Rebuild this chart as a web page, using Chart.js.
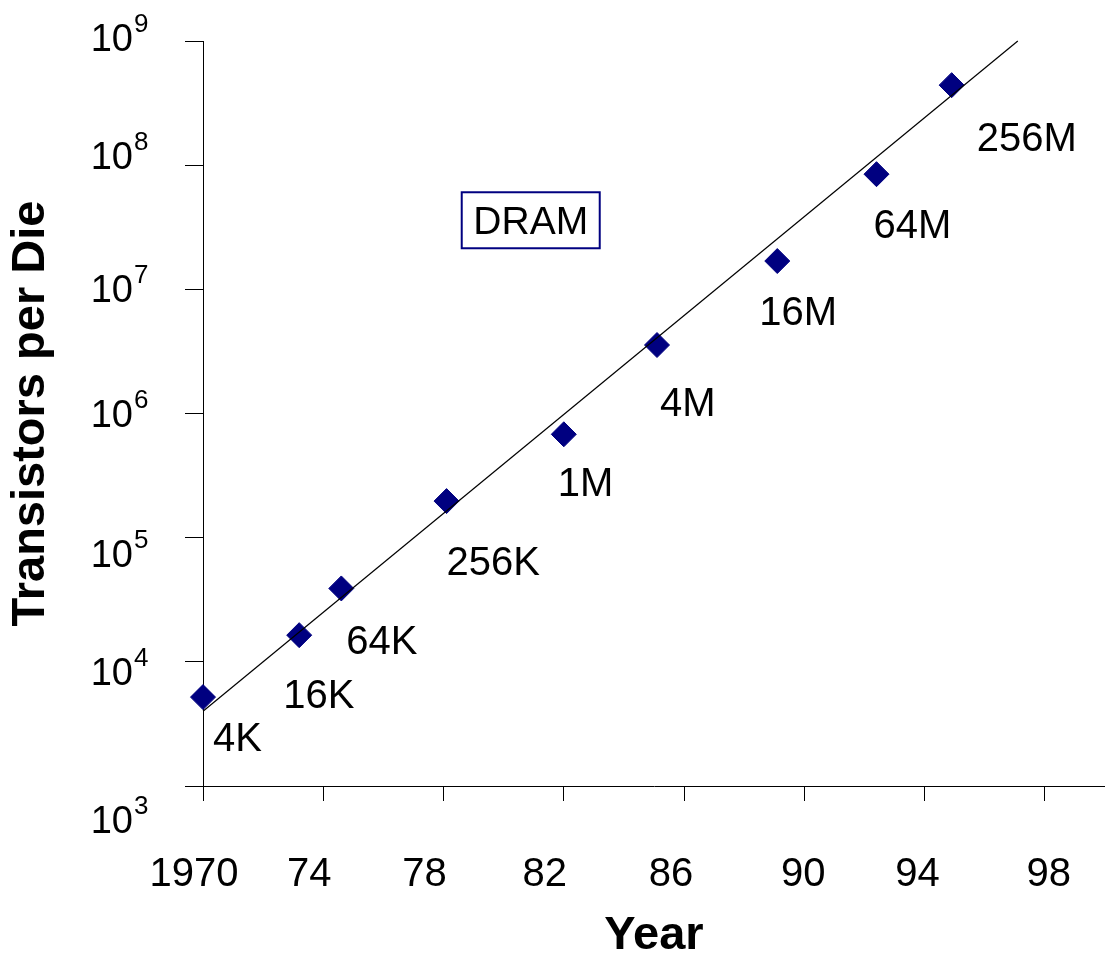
<!DOCTYPE html>
<html>
<head>
<meta charset="utf-8">
<title>DRAM Transistors per Die</title>
<script src="https://cdn.jsdelivr.net/npm/chart.js@4.4.1/dist/chart.umd.min.js"></script>
<style>
    html,body{ margin:0; padding:0; background:#fff; }
    #wrap{ width:1105px; height:960px; }
</style>
</head>
<body>
<div id="wrap">
    <canvas id="dramChart" width="1105" height="960"></canvas>
</div>
<script>

// ===============================
// DATA
// ===============================

const years = [1970, 1973.2, 1974.6, 1978.1, 1982.0, 1985.1, 1989.1, 1992.4, 1994.9];

const transistors = [5200, 16400, 39000, 197000, 680000, 3560000, 16900000, 84600000, 441000000];

const chipLabels = ["4K", "16K", "64K", "256K", "1M", "4M", "16M", "64M", "256M"];

const trendYears = [1970, 1997.1];

const trendValues = [4000, 1000000000];

const xTickValues = [1970, 1974, 1978, 1982, 1986, 1990, 1994, 1998];

const xTickLabels = ["1970", "74", "78", "82", "86", "90", "94", "98"];

const yTickExponents = [3, 4, 5, 6, 7, 8, 9];

const FONT = "'Liberation Sans', Arial, sans-serif";

// ===============================
// LABEL PLUGIN (tick labels, chip names, box)
// ===============================

const labelPlugin = {

    id: "labelPlugin",

    afterDraw(chart, args, opts){

        const ctx = chart.ctx;
        const xs = chart.scales.x;
        const ys = chart.scales.y;

        ctx.save();
        ctx.fillStyle = "#000";
        ctx.textBaseline = "alphabetic";

        // x tick labels
        ctx.font = "40px " + FONT;
        ctx.textAlign = "center";
        xTickValues.forEach((v, i) => {
            ctx.fillText(xTickLabels[i], xs.getPixelForValue(v) + opts.xNudge[i], xs.top + 100);
        });

        // y tick labels 10^n
        yTickExponents.forEach((e, i) => {
            const base = ys.getPixelForValue(Math.pow(10, e)) + opts.yNudge[i];
            const right = chart.chartArea.left - 70;
            ctx.font = "38px " + FONT;
            ctx.textAlign = "right";
            ctx.fillText("10", right, base);
            ctx.font = "26px " + FONT;
            ctx.textAlign = "left";
            ctx.fillText(String(e), right + 1, base - 19);
        });

        // chip labels next to points
        ctx.font = "40px " + FONT;
        ctx.textAlign = "left";
        const meta = chart.getDatasetMeta(1);
        meta.data.forEach((pt, i) => {
            const n = opts.chipNudge[i];
            ctx.fillText(chipLabels[i], pt.x + n[0], pt.y + n[1]);
        });

        // DRAM box
        const bx = xs.getPixelForValue(opts.box.x);
        const by = ys.getPixelForValue(opts.box.y);
        ctx.strokeStyle = "#000080";
        ctx.lineWidth = 2;
        ctx.strokeRect(bx - 69, by - 28, 138, 56);
        ctx.font = "39px " + FONT;
        ctx.textAlign = "center";
        ctx.fillText("DRAM", bx, by + 13.5);

        ctx.restore();

    }

};

// ===============================
// CHART
// ===============================

const ctx = document
.getElementById("dramChart")
.getContext("2d");

const chart = new Chart(ctx, {

    type: "scatter",

    data: {

        datasets: [{

            label: "Trend",

            data: trendYears.map((x, i) => ({ x: x, y: trendValues[i] })),

            showLine: true,

            borderColor: "#000",

            borderWidth: 1.2,

            pointRadius: 0,

            clip: false,

            order: 0

        }, {

            label: "DRAM",

            data: years.map((x, i) => ({ x: x, y: transistors[i] })),

            pointStyle: "rectRot",

            pointRadius: 12.5,

            pointBackgroundColor: "#000080",

            pointBorderColor: "#000080",

            pointBorderWidth: 1,

            clip: false,

            order: 1

        }]

    },

    options: {

        responsive: false,

        animation: false,

        devicePixelRatio: 1,

        layout: {

            autoPadding: false,

            padding: { top: 41, left: 0, right: 0, bottom: 0 }

        },

        plugins: {

            legend: { display: false },

            tooltip: { enabled: false },

            labelPlugin: {

                xNudge: [-9, -14, -19, -19, -13, -1, -7, 4],

                yNudge: [47, 23, 29, 13, 13, 4, 10],

                chipNudge: [[10, 54], [-16, 73], [5, 66], [0, 74], [-6, 62], [3, 71], [-18, 64], [-3, 64], [25, 66]],

                box: { x: 1980.9, y: 36000000 }

            }

        },

        scales: {

            x: {

                type: "linear",

                min: 1970,

                max: 2000,

                afterBuildTicks: scale => {
                    scale.ticks = xTickValues.map(v => ({ value: v }));
                },

                ticks: { display: false },

                grid: {
                    drawOnChartArea: false,
                    drawTicks: true,
                    tickLength: 15,
                    tickColor: "#000",
                    tickWidth: 1
                },

                border: { display: true, color: "#000", width: 1 },

                title: {
                    display: true,
                    text: "Year",
                    color: "#000",
                    font: { family: FONT, size: 47, weight: "bold", lineHeight: 1 },
                    padding: { top: 112, bottom: 0 }
                }

            },

            y: {

                type: "logarithmic",

                min: 1000,

                max: 1000000000,

                afterBuildTicks: scale => {
                    scale.ticks = yTickExponents.map(e => ({ value: Math.pow(10, e) }));
                },

                ticks: { display: false },

                grid: {
                    drawOnChartArea: false,
                    drawTicks: true,
                    tickLength: 18,
                    tickColor: "#000",
                    tickWidth: 1
                },

                border: { display: true, color: "#000", width: 1 },

                title: {
                    display: true,
                    text: "Transistors per Die",
                    color: "#000",
                    font: { family: FONT, size: 47, weight: "bold", lineHeight: 1 },
                    padding: { top: 8, bottom: 130 }
                }

            }

        }

    },

    plugins: [labelPlugin]

});

</script>
</body>
</html>
